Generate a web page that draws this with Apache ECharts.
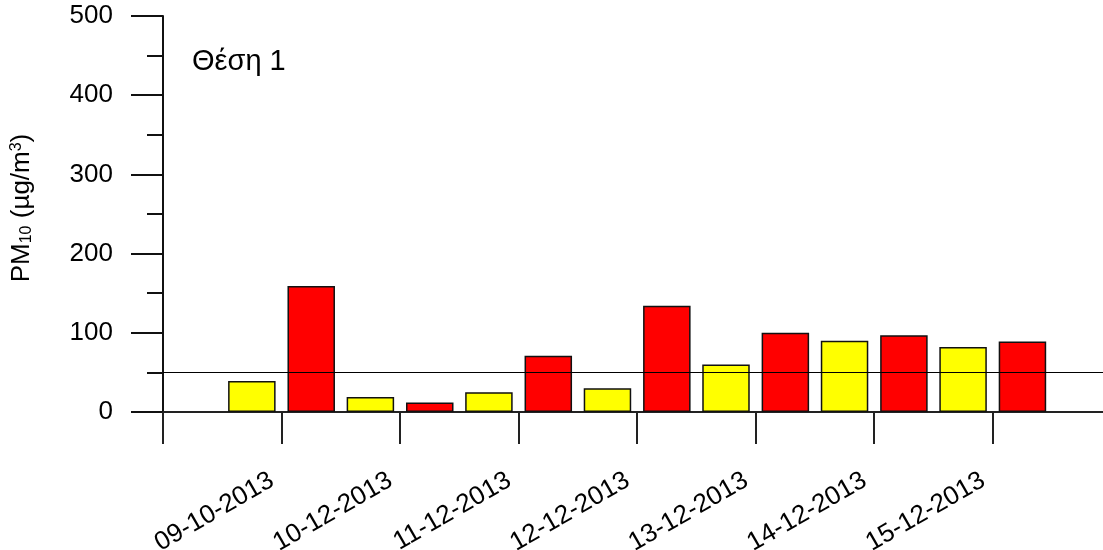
<!DOCTYPE html>
<html>
<head>
<meta charset="utf-8">
<script src="https://cdn.jsdelivr.net/npm/echarts@6/dist/echarts.min.js"></script>
<style>
  html, body { margin: 0; padding: 0; background: #fff; }
  #chart { width: 1103px; height: 550px; }
</style>
</head>
<body>
<div id="chart"></div>
<script>
// Sampling dates (one pair of bars per date)
const dates = ['09-10-2013', '10-12-2013', '11-12-2013', '12-12-2013', '13-12-2013', '14-12-2013', '15-12-2013'];
// PM10 concentrations, µg/m³
const yellowValues = [39, 19, 25, 30, 60, 90, 82];
const redValues = [159, 12, 71, 134, 100, 97, 89];
// Daily limit value
const limitValue = 50;
// Axis ticks
const yTicks = [0, 100, 200, 300, 400, 500];
const xTickPositions = [0, 1, 2, 3, 4, 5, 6, 7];
const xLabelPositions = [1, 2, 3, 4, 5, 6, 7];
const siteLabel = 'Θέση 1';

const font = 'Arial, "Liberation Sans", Helvetica, sans-serif';
const toPairs = vals => vals.map((v, i) => [i + 1, v]);

const chart = echarts.init(document.getElementById('chart'));
chart.setOption({
  animation: false,
  backgroundColor: '#ffffff',
  textStyle: { fontFamily: font },
  grid: { left: 163, right: 0, top: 16, bottom: 138, containLabel: false, outerBoundsMode: 'none' },
  graphic: [
    {
      type: 'text',
      x: 192,
      y: 62,
      style: {
        text: siteLabel,
        font: '29px ' + font,
        fill: '#000',
        verticalAlign: 'middle'
      }
    },
    {
      type: 'text',
      x: 22,
      y: 208,
      rotation: Math.PI / 2,
      style: {
        text: '{n|PM}{s|10}{n| (µg/m}{p|3}{n|)}',
        align: 'center',
        verticalAlign: 'middle',
        rich: {
          n: { fontSize: 26, fill: '#000', fontFamily: font },
          s: { fontSize: 16, fill: '#000', fontFamily: font, verticalAlign: 'bottom', padding: [9, 0, 0, 0] },
          p: { fontSize: 16, fill: '#000', fontFamily: font, verticalAlign: 'top', padding: [0, 0, 9, 0] }
        }
      }
    }
  ],
  xAxis: {
    type: 'value',
    min: 0,
    max: 7.93,
    splitLine: { show: false },
    axisLine: { show: true, onZero: false, lineStyle: { color: '#222', width: 2 } },
    axisTick: {
      show: true,
      customValues: xTickPositions,
      length: 32,
      lineStyle: { color: '#222', width: 2 }
    },
    axisLabel: {
      show: true,
      customValues: xLabelPositions,
      rotate: 30,
      margin: 61,
      padding: [0, 11, 0, 0],
      fontSize: 26,
      color: '#000',
      fontFamily: font,
      formatter: v => dates[Math.round(v) - 1] || ''
    }
  },
  yAxis: {
    type: 'value',
    min: yTicks[0],
    max: yTicks[yTicks.length - 1],
    interval: 100,
    splitLine: { show: false },
    axisLine: { show: true, lineStyle: { color: '#111', width: 2 } },
    axisTick: { show: true, length: 32, lineStyle: { color: '#111', width: 2 } },
    minorTick: { show: true, splitNumber: 2, length: 16, lineStyle: { color: '#111', width: 2 } },
    axisLabel: { fontSize: 26, color: '#000', margin: 50, fontFamily: font }
  },
  series: [
    {
      name: 'yellow',
      type: 'bar',
      data: toPairs(yellowValues),
      barWidth: 47.5,
      barGap: '25%',
      itemStyle: { color: '#ffff00', borderColor: '#111', borderWidth: 1.5 },
      markLine: {
        silent: true,
        symbol: 'none',
        label: { show: false },
        lineStyle: { color: '#000', width: 1, type: 'solid' },
        data: [{ yAxis: limitValue }]
      }
    },
    {
      name: 'red',
      type: 'bar',
      data: toPairs(redValues),
      barWidth: 47.5,
      barGap: '25%',
      itemStyle: { color: '#ff0000', borderColor: '#111', borderWidth: 1.5 }
    }
  ]
});
</script>
</body>
</html>
